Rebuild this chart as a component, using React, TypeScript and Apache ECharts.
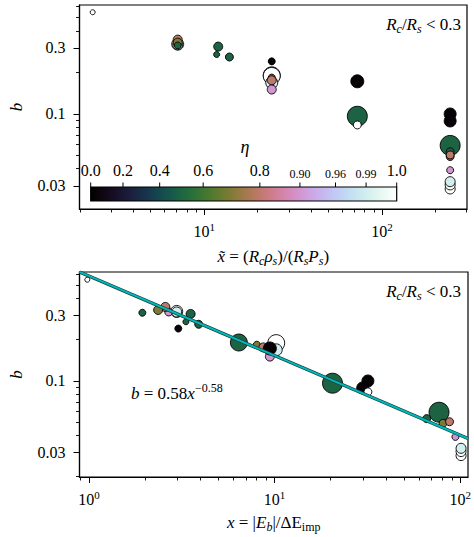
import React, { useEffect, useRef } from "react";
import * as echarts from "echarts";

// ---- data ----
const eta = [1.0, 1.0, 0.9, 0.99, 0.8, 0.7, 0.5, 0.5, 0.5, 0.5, 0.03, 0.5, 1.0, 0.7, 0.99, 0.8, 0.9, 0.03, 0.5, 0.03, 0.03, 1.0, 0.5, 0.5, 0.7, 0.8, 0.9, 1.0, 1.0, 0.99];
const xTilde = [2.36, 7.1, 7.1, 7.1, 7.1, 7.1, 7.1, 12.0, 11.76, 13.87, 24, 24, 24, 24, 24, 24, 24, 72.7, 72.7, 242, 242, 72.7, 242, 242, 242, 242, 242, 242, 242, 242];
const xEnergy = [0.98, 2.97, 2.69, 2.97, 2.58, 2.36, 1.94, 3.53, 3.33, 3.9, 3.03, 6.42, 10.2, 8.02, 10.2, 8.7, 9.43, 9.43, 20.5, 31.8, 29.8, 31.8, 76.8, 65.9, 80.7, 87.5, 94.1, 100.9, 100.9, 100.9];
const bValues = [0.545, 0.32, 0.317, 0.317, 0.345, 0.328, 0.313, 0.307, 0.269, 0.258, 0.24, 0.19, 0.188, 0.183, 0.168, 0.175, 0.15, 0.172, 0.096, 0.0997, 0.0887, 0.083, 0.059, 0.053, 0.049, 0.0503, 0.039, 0.0285, 0.0305, 0.0322];
const markerWeight = [5, 12, 8, 10, 9, 9, 7, 9, 6, 8, 7, 17, 17, 7, 12, 9, 9, 13, 20, 12, 12, 8, 20, 8, 8, 8, 7, 10, 10, 10];

const fitCoef = 0.58;
const fitExp = -0.58;

const cbTicks = [0.0, 0.2, 0.4, 0.6, 0.8, 0.9, 0.96, 0.99, 1.0];
const cbLabels = ["0.0", "0.2", "0.4", "0.6", "0.8", "0.90", "0.96", "0.99", "1.0"];

const topXMajor = [10, 100];
const topXMinor = [2, 3, 4, 5, 6, 7, 8, 9, 20, 30, 40, 50, 60, 70, 80, 90, 200, 300];
const botXMajor = [1, 10, 100];
const botXMinor = [0.9, 2, 3, 4, 5, 6, 7, 8, 9, 20, 30, 40, 50, 60, 70, 80, 90];
const yMajor = [0.03, 0.1, 0.3];
const yMajorLabels = ["0.03", "0.1", "0.3"];
const yMinor = [0.02, 0.04, 0.05, 0.06, 0.07, 0.08, 0.09, 0.2, 0.4, 0.5, 0.6];

// ---- helpers ----
const F = "'Liberation Serif', 'DejaVu Serif', serif";

function etaNorm(e: number): number {
  return 1 - Math.sqrt(Math.max(0, 1 - e));
}

function cubehelix(t: number): string {
  const s = 0.5, r = -1.5, h = 1.0;
  const a = (h * t * (1 - t)) / 2;
  const phi = 2 * Math.PI * (s / 3 + r * t);
  const c = Math.cos(phi), sn = Math.sin(phi);
  const R = t + a * (-0.14861 * c + 1.78277 * sn);
  const G = t + a * (-0.29227 * c - 0.90649 * sn);
  const B = t + a * (1.97294 * c);
  const cl = (v: number) => Math.round(Math.min(1, Math.max(0, v)) * 255);
  return `rgb(${cl(R)},${cl(G)},${cl(B)})`;
}

const rich = {
  i: { fontFamily: F, fontStyle: "italic", fontSize: 17, lineHeight: 22, color: "#000" },
  n: { fontFamily: F, fontSize: 17, lineHeight: 22, color: "#000" },
  sub: { fontFamily: F, fontStyle: "italic", fontSize: 12, lineHeight: 12, verticalAlign: "bottom", color: "#000" },
  subr: { fontFamily: F, fontSize: 12, lineHeight: 12, verticalAlign: "bottom", color: "#000" },
  sup: { fontFamily: F, fontSize: 12, lineHeight: 12, verticalAlign: "top", color: "#000" },
};

const tickRich = {
  m: { fontFamily: F, fontSize: 16, lineHeight: 20, color: "#000" },
  s: { fontFamily: F, fontSize: 11, lineHeight: 11, verticalAlign: "top", color: "#000" },
};

function powLabel(v: number): string {
  const e = Math.round(Math.log10(v));
  return `{m|10}{s|${e}}`;
}

function yLabel(v: number): string {
  let best = 0;
  for (let k = 0; k < yMajor.length; k++) {
    if (Math.abs(Math.log10(yMajor[k]) - Math.log10(v)) < Math.abs(Math.log10(yMajor[best]) - Math.log10(v))) best = k;
  }
  return yMajorLabels[best];
}

function xAxisPair(grid: number, min: number, max: number, major: number[], minor: number[], name: string, gap: number) {
  return [
    {
      gridIndex: grid, type: "log", min, max, position: "bottom",
      axisLine: { show: true, lineStyle: { color: "#000", width: 1.2 } },
      axisTick: { show: true, length: 6, customValues: major, lineStyle: { color: "#000", width: 1 } },
      axisLabel: { customValues: major, formatter: powLabel, margin: 12, rich: tickRich, color: "#000", fontFamily: F },
      splitLine: { show: false },
      name, nameLocation: "middle", nameGap: gap,
      nameTextStyle: { fontFamily: F, fontSize: 17, lineHeight: 22, color: "#000", rich },
    },
    {
      gridIndex: grid, type: "log", min, max, position: "bottom",
      axisLine: { show: false },
      axisTick: { show: true, length: 3.5, customValues: minor, lineStyle: { color: "#000", width: 0.9 } },
      axisLabel: { show: false },
      splitLine: { show: false },
    },
  ];
}

function yAxisPair(grid: number, min: number, max: number) {
  return [
    {
      gridIndex: grid, type: "log", min, max, position: "left",
      axisLine: { show: true, lineStyle: { color: "#000", width: 1.2 } },
      axisTick: { show: true, length: 6, customValues: yMajor, lineStyle: { color: "#000", width: 1 } },
      axisLabel: { customValues: yMajor, formatter: yLabel, margin: 14, fontFamily: F, fontSize: 16, color: "#000" },
      splitLine: { show: false },
      name: "{i|b}", nameLocation: "middle", nameGap: 52, nameRotate: 90,
      nameTextStyle: { fontFamily: F, fontSize: 17, color: "#000", rich },
    },
    {
      gridIndex: grid, type: "log", min, max, position: "left",
      axisLine: { show: false },
      axisTick: { show: true, length: 3.5, customValues: yMinor, lineStyle: { color: "#000", width: 0.9 } },
      axisLabel: { show: false },
      splitLine: { show: false },
    },
  ];
}

export default function App() {
  const ref = useRef<HTMLDivElement>(null);

  useEffect(() => {
    document.body.style.margin = "0";
    if (!ref.current) return;
    const chart = echarts.init(ref.current, null, { renderer: "svg" });

    const topData = eta.map((e, k) => ({
      value: [xTilde[k], bValues[k]],
      symbolSize: markerWeight[k],
      itemStyle: { color: cubehelix(etaNorm(e)) },
    }));
    const botData = eta.map((e, k) => ({
      value: [xEnergy[k], bValues[k]],
      symbolSize: markerWeight[k],
      itemStyle: { color: cubehelix(etaNorm(e)) },
    }));

    const bxMin = 0.89, bxMax = 110;
    const fitData = [bxMin, bxMax].map((x) => [x, fitCoef * Math.pow(x, fitExp)]);

    // colorbar
    const cbX = 90.7, cbY = 187, cbW = 306, cbH = 14;
    const stops = [];
    const N = 64;
    for (let i = 0; i <= N; i++) stops.push({ offset: i / N, color: cubehelix(i / N) });
    const cbElems: any[] = [
      {
        type: "rect", shape: { x: cbX, y: cbY, width: cbW, height: cbH },
        style: { fill: new echarts.graphic.LinearGradient(0, 0, 1, 0, stops), stroke: "#000", lineWidth: 1.2 },
      },
      {
        type: "text", x: 245, y: 147,
        style: { text: "η", fontFamily: F, fontStyle: "italic", fontSize: 18, fill: "#000", align: "center", verticalAlign: "middle" },
      },
    ];
    cbTicks.forEach((t, k) => {
      const px = cbX + etaNorm(t) * cbW;
      const small = t > 0.85 && t < 0.999;
      cbElems.push({
        type: "line", shape: { x1: px, y1: cbY - 4.5, x2: px, y2: cbY },
        style: { stroke: "#000", lineWidth: 1 },
      });
      cbElems.push({
        type: "text", x: px, y: small ? 174 : 170,
        style: { text: cbLabels[k], fontFamily: F, fontSize: small ? 12 : 16, fill: "#000", align: "center", verticalAlign: "middle" },
      });
    });

    const annot = (y: number) => ({
      type: "text", x: 461, y,
      style: {
        text: "{i|R}{sub|c}{n|/}{i|R}{sub|s}{n| < 0.3}",
        rich, fontFamily: F, fontSize: 17, fill: "#000", align: "right", verticalAlign: "middle",
      },
    });

    const option: any = {
      animation: false,
      textStyle: { fontFamily: F },
      grid: [
        { left: 72, top: 5, width: 395, height: 204, show: true, borderColor: "#000", borderWidth: 1.2, backgroundColor: "transparent" },
        { left: 72, top: 272, width: 396, height: 205, show: true, borderColor: "#000", borderWidth: 1.2, backgroundColor: "transparent" },
      ],
      xAxis: [
        ...xAxisPair(0, 1.99, 301, topXMajor, topXMinor,
          "{i|x\u0303}{n| = (}{i|R}{sub|c}{i|ρ}{sub|s}{n|)/(}{i|R}{sub|s}{i|P}{sub|s}{n|)}", 36),
        ...xAxisPair(1, bxMin, bxMax, botXMajor, botXMinor,
          "{i|x}{n| = |}{i|E}{sub|b}{n||/ΔE}{subr|imp}", 34),
      ],
      yAxis: [...yAxisPair(0, 0.0204, 0.615), ...yAxisPair(1, 0.0199, 0.62)],
      series: [
        {
          type: "scatter", xAxisIndex: 0, yAxisIndex: 0, data: topData,
          itemStyle: { borderColor: "#000", borderWidth: 0.9, opacity: 1 },
          emphasis: { disabled: true },
        },
        {
          type: "scatter", xAxisIndex: 2, yAxisIndex: 2, data: botData,
          itemStyle: { borderColor: "#000", borderWidth: 0.9, opacity: 1 },
          emphasis: { disabled: true },
        },
        {
          type: "line", xAxisIndex: 2, yAxisIndex: 2, data: fitData, symbol: "none", z: 5,
          lineStyle: { color: "#143c3c", width: 3.4 }, emphasis: { disabled: true },
        },
        {
          type: "line", xAxisIndex: 2, yAxisIndex: 2, data: fitData, symbol: "none", z: 6,
          lineStyle: { color: "#00b8b8", width: 2 }, emphasis: { disabled: true },
        },
      ],
      graphic: [
        ...cbElems,
        annot(24),
        annot(291),
        {
          type: "text", x: 131, y: 393,
          style: {
            text: "{i|b}{n| = 0.58}{i|x}{sup|−0.58}",
            rich, fontFamily: F, fontSize: 17, fill: "#000", align: "left", verticalAlign: "middle",
          },
        },
      ],
    };

    chart.setOption(option);
    return () => chart.dispose();
  }, []);

  return <div ref={ref} style={{ width: 474, height: 537 }} />;
}
